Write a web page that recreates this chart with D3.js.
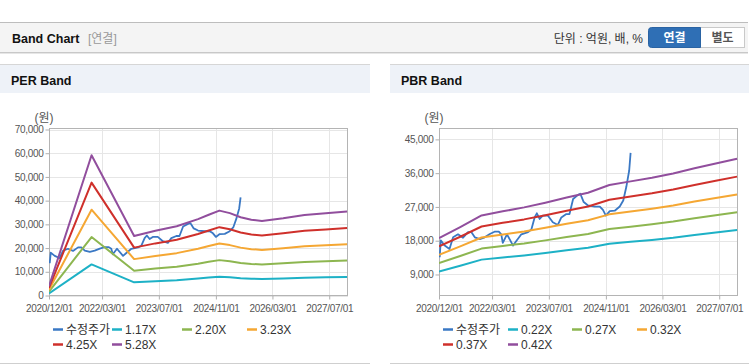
<!DOCTYPE html>
<html>
<head>
<meta charset="utf-8">
<script src="https://cdn.jsdelivr.net/npm/d3@7"></script>
<style>
  body { margin: 0; background: #fff; }
  svg { display: block; }
  text { font-family: "Liberation Sans", "Noto Sans CJK KR", sans-serif; }
</style>
</head>
<body>
<svg id="chart" width="749" height="364"></svg>
<script>
// x axis
const xTickDates = ["2020-12-01", "2022-03-01", "2023-07-01", "2024-11-01", "2026-03-01", "2027-07-01"];
const xStart = "2020-12-01";
const xEnd = "2027-12-09";

// adjusted price (수정주가), shared by both charts
const priceDates = ["2020-12-07", "2020-12-16", "2021-01-19", "2021-03-01", "2021-04-01", "2021-05-13",
  "2021-06-25", "2021-08-07", "2021-09-04", "2021-10-04", "2021-11-16", "2021-12-28", "2022-02-10",
  "2022-03-22", "2022-04-28", "2022-05-19", "2022-06-01", "2022-07-07", "2022-08-28", "2022-09-25",
  "2022-11-07", "2023-01-04", "2023-02-01", "2023-03-01", "2023-03-20", "2023-04-13", "2023-05-10",
  "2023-06-22", "2023-08-04", "2023-09-16", "2023-10-16", "2023-11-28", "2023-12-25", "2024-01-25",
  "2024-03-07", "2024-03-28", "2024-04-04", "2024-04-25", "2024-06-01", "2024-07-28", "2024-09-10",
  "2024-10-07", "2024-11-01", "2024-12-04", "2025-01-16", "2025-02-28", "2025-03-30", "2025-04-25",
  "2025-05-20", "2025-06-01"];
const priceValues = [13600, 18100, 16700, 15800, 18900, 19700,
  18800, 20300, 20300, 18900, 18400, 18900, 19800,
  20400, 20400, 19700, 17400, 19700, 16700, 17900,
  19700, 20300, 21000, 24200, 25300, 23800, 24700,
  24700, 22900, 22200, 24200, 25100, 25100, 29100,
  30200, 30500, 29900, 28300, 27400, 27100, 27100,
  26200, 24700, 25900, 26000, 27100, 28700, 32300,
  36700, 41400];

// PER band
const perBandDates = ["2020-12-01", "2021-12-01", "2022-12-01", "2023-06-01", "2023-12-01", "2024-06-01",
  "2024-09-01", "2024-12-01", "2025-03-01", "2025-06-01", "2025-09-01", "2025-12-01", "2026-06-01",
  "2026-12-01", "2027-06-01", "2027-12-01"];
const perBand117 = [878, 13104, 5558, 6049, 6470, 7137, 7547, 7933, 7699, 7313, 7079, 6962, 7219, 7523, 7675, 7839];
const perBand220 = [1650, 24640, 10450, 11374, 12166, 13420, 14190, 14916, 14476, 13750, 13310, 13090, 13574, 14146, 14432, 14740];
const perBand323 = [2423, 36176, 15343, 16699, 17862, 19703, 20834, 21899, 21253, 20188, 19542, 19219, 19929, 20769, 21189, 21641];
const perBand425 = [3188, 47600, 20188, 21973, 23503, 25925, 27413, 28815, 27965, 26563, 25713, 25288, 26223, 27328, 27880, 28475];
const perBand528 = [3960, 59136, 25080, 27298, 29198, 32208, 34056, 35798, 34742, 33000, 31944, 31416, 32578, 33950, 34637, 35376];
const perLabels = ["1.17X", "2.20X", "3.23X", "4.25X", "5.28X"];
const perYTicks = [0, 10000, 20000, 30000, 40000, 50000, 60000, 70000];

// PBR band
const pbrBandDates = ["2020-12-01", "2021-06-01", "2021-12-01", "2022-06-01", "2022-12-01", "2023-06-01",
  "2023-12-01", "2024-06-01", "2024-12-01", "2025-06-01", "2025-12-01", "2026-06-01", "2026-12-01",
  "2027-06-01", "2027-12-01"];
const pbrBand022 = [9790, 11330, 12960, 13530, 14080, 14740, 15470, 16130, 17200, 17710, 18220, 18810, 19540, 20200, 20860];
const pbrBand027 = [12020, 13910, 15900, 16610, 17280, 18090, 18980, 19790, 21110, 21740, 22360, 23090, 23980, 24790, 25600];
const pbrBand032 = [14240, 16480, 18850, 19680, 20480, 21440, 22500, 23460, 25020, 25760, 26500, 27360, 28420, 29380, 30340];
const pbrBand037 = [16470, 19060, 21790, 22760, 23680, 24790, 26010, 27120, 28930, 29790, 30640, 31640, 32860, 33970, 35080];
const pbrBand042 = [18690, 21630, 24740, 25830, 26880, 28140, 29530, 30790, 32840, 33810, 34780, 35910, 37300, 38560, 39820];
const pbrLabels = ["0.22X", "0.27X", "0.32X", "0.37X", "0.42X"];
const pbrYTicks = [9000, 18000, 27000, 36000, 45000];

const priceLabel = "수정주가";
const priceColor = "#3a78c4";
const bandColors = ["#1db1c6", "#8db650", "#f5a733", "#cf302b", "#914e9d"];

const parse = d3.timeParse("%Y-%m-%d");
const fmtDate = d3.timeFormat("%Y/%m/%d");
const fmtNum = d3.format(",");

const svg = d3.select("#chart");

// ---- top header bar
svg.append("rect").attr("x", 0).attr("y", 22).attr("width", 748).attr("height", 30)
  .attr("fill", "#f4f4f4");
svg.append("line").attr("x1", 0).attr("x2", 748).attr("y1", 22.5).attr("y2", 22.5).attr("stroke", "#bdbdbd");
svg.append("line").attr("x1", 0).attr("x2", 748).attr("y1", 52.5).attr("y2", 52.5).attr("stroke", "#c8c8c8");
svg.append("line").attr("x1", 0).attr("x2", 748).attr("y1", 53.5).attr("y2", 53.5).attr("stroke", "#e6e6e6");

svg.append("text").attr("x", 12).attr("y", 43).attr("font-size", "12.5px").attr("font-weight", "bold")
  .attr("fill", "#111").text("Band Chart");
svg.append("text").attr("x", 88).attr("y", 43).attr("font-size", "12px")
  .attr("fill", "#999").text("[연결]");
svg.append("text").attr("x", 643).attr("y", 43).attr("font-size", "12px").attr("text-anchor", "end")
  .attr("fill", "#333").text("단위 : 억원, 배, %");

// toggle buttons
svg.append("rect").attr("x", 700.5).attr("y", 27.5).attr("width", 44).attr("height", 20)
  .attr("fill", "#fff").attr("stroke", "#c9c9c9");
svg.append("path").attr("d", "M700.5,27.5 H651.5 Q648.5,27.5 648.5,30.5 V44.5 Q648.5,47.5 651.5,47.5 H700.5 Z")
  .attr("fill", "#2f6fb5").attr("stroke", "#2a63a3");
svg.append("text").attr("x", 674.5).attr("y", 42).attr("font-size", "12px").attr("font-weight", "bold")
  .attr("text-anchor", "middle").attr("fill", "#fff").text("연결");
svg.append("text").attr("x", 722.5).attr("y", 42).attr("font-size", "12px").attr("font-weight", "bold")
  .attr("text-anchor", "middle").attr("fill", "#555").text("별도");

function drawPanel(opts) {
  const left = opts.left;
  const width = opts.width;
  const g = svg.append("g");

  // panel frame & header
  g.append("rect").attr("x", left).attr("y", 64).attr("width", width).attr("height", 29).attr("fill", "#eef2f8");
  g.append("line").attr("x1", left).attr("x2", left + width).attr("y1", 64.5).attr("y2", 64.5).attr("stroke", "#d6d6d6");
  g.append("line").attr("x1", left).attr("x2", left + width).attr("y1", 363.5).attr("y2", 363.5).attr("stroke", "#cfcfcf");
  g.append("text").attr("x", left + 11).attr("y", 84.5).attr("font-size", "12.5px").attr("font-weight", "bold")
    .attr("fill", "#111").text(opts.title);

  const plotL = left + 49, plotR = left + 348, plotT = 128, plotB = 296;

  const x = d3.scaleTime()
    .domain([parse(xStart), parse(xEnd)])
    .range([plotL, plotR]);
  const y = d3.scaleLinear()
    .domain(opts.yDomain)
    .range([plotB - 0.5, plotT + opts.topPad]);

  // grid
  g.append("g").selectAll("line").data(opts.yTicks).enter().append("line")
    .attr("x1", plotL).attr("x2", plotR)
    .attr("y1", d => Math.round(y(d)) + 0.5).attr("y2", d => Math.round(y(d)) + 0.5)
    .attr("stroke", "#e6e6e6");
  g.append("g").selectAll("line").data(xTickDates).enter().append("line")
    .attr("x1", d => Math.round(x(parse(d))) + 0.5).attr("x2", d => Math.round(x(parse(d))) + 0.5)
    .attr("y1", plotT).attr("y2", plotB)
    .attr("stroke", "#e6e6e6");

  // axes
  const yAxis = g.append("g")
    .attr("transform", "translate(" + (plotL + 0.5) + ",0)")
    .call(d3.axisLeft(y).tickValues(opts.yTicks).tickSize(4).tickPadding(2).tickFormat(fmtNum));
  const xAxis = g.append("g")
    .attr("transform", "translate(0," + (plotB - 0.5) + ")")
    .call(d3.axisBottom(x).tickValues(xTickDates.map(parse)).tickSize(4).tickPadding(5).tickFormat(fmtDate));
  [xAxis, yAxis].forEach(a => {
    a.select(".domain").remove();
    a.selectAll(".tick line").attr("stroke", "#b0b0b0");
    a.selectAll("text").attr("fill", "#555").attr("font-size", "10px")
      .attr("letter-spacing", "-0.3px")
      .style("font-family", "'Liberation Sans', sans-serif");
  });

  g.append("rect").attr("x", plotL + 0.5).attr("y", plotT + 0.5)
    .attr("width", plotR - plotL - 1).attr("height", plotB - plotT - 1)
    .attr("fill", "none").attr("stroke", "#b4b4b4");

  g.append("text").attr("x", left + 44).attr("y", 122).attr("font-size", "12px")
    .attr("text-anchor", "middle").attr("fill", "#555").text("(원)");

  // series
  const line = d3.line().x(d => x(d.date)).y(d => y(d.value));
  const clip = "clip" + left;
  g.append("clipPath").attr("id", clip).append("rect")
    .attr("x", plotL).attr("y", plotT).attr("width", plotR - plotL).attr("height", plotB - plotT);
  const lines = g.append("g").attr("clip-path", "url(#" + clip + ")");

  const price = priceDates.map((d, i) => ({date: parse(d), value: priceValues[i]}));
  lines.append("path").datum(price).attr("d", line)
    .attr("fill", "none").attr("stroke", priceColor).attr("stroke-width", 1.8).attr("stroke-linejoin", "round");

  opts.bands.forEach((vals, k) => {
    const pts = opts.bandDates.map((d, i) => ({date: parse(d), value: vals[i]}));
    lines.append("path").datum(pts).attr("d", line)
      .attr("fill", "none").attr("stroke", bandColors[k]).attr("stroke-width", 2).attr("stroke-linejoin", "round");
  });

  // legend
  const items = [{label: priceLabel, color: priceColor}]
    .concat(opts.labels.map((l, k) => ({label: l, color: bandColors[k]})));
  items.forEach((it, i) => {
    const row = Math.floor(i / 4), col = i % 4;
    const tx = left + opts.legendX[col];
    const ly = 329.5 + row * 15;
    g.append("line").attr("x1", tx - 13).attr("x2", tx - 3).attr("y1", ly).attr("y2", ly)
      .attr("stroke", it.color).attr("stroke-width", 2.5);
    g.append("text").attr("x", tx).attr("y", ly + 4.5).attr("font-size", "12px")
      .attr("fill", "#333").text(it.label);
  });
}

drawPanel({
  left: 0, width: 370, title: "PER Band",
  yDomain: [0, 70000], yTicks: perYTicks, topPad: 1.5,
  bandDates: perBandDates,
  bands: [perBand117, perBand220, perBand323, perBand425, perBand528],
  labels: perLabels,
  legendX: [66, 125, 195, 260]
});

drawPanel({
  left: 390, width: 359, title: "PBR Band",
  yDomain: [3400, 47900], yTicks: pbrYTicks, topPad: 0.5,
  bandDates: pbrBandDates,
  bands: [pbrBand022, pbrBand027, pbrBand032, pbrBand037, pbrBand042],
  labels: pbrLabels,
  legendX: [66, 131, 195, 260]
});
</script>
</body>
</html>
